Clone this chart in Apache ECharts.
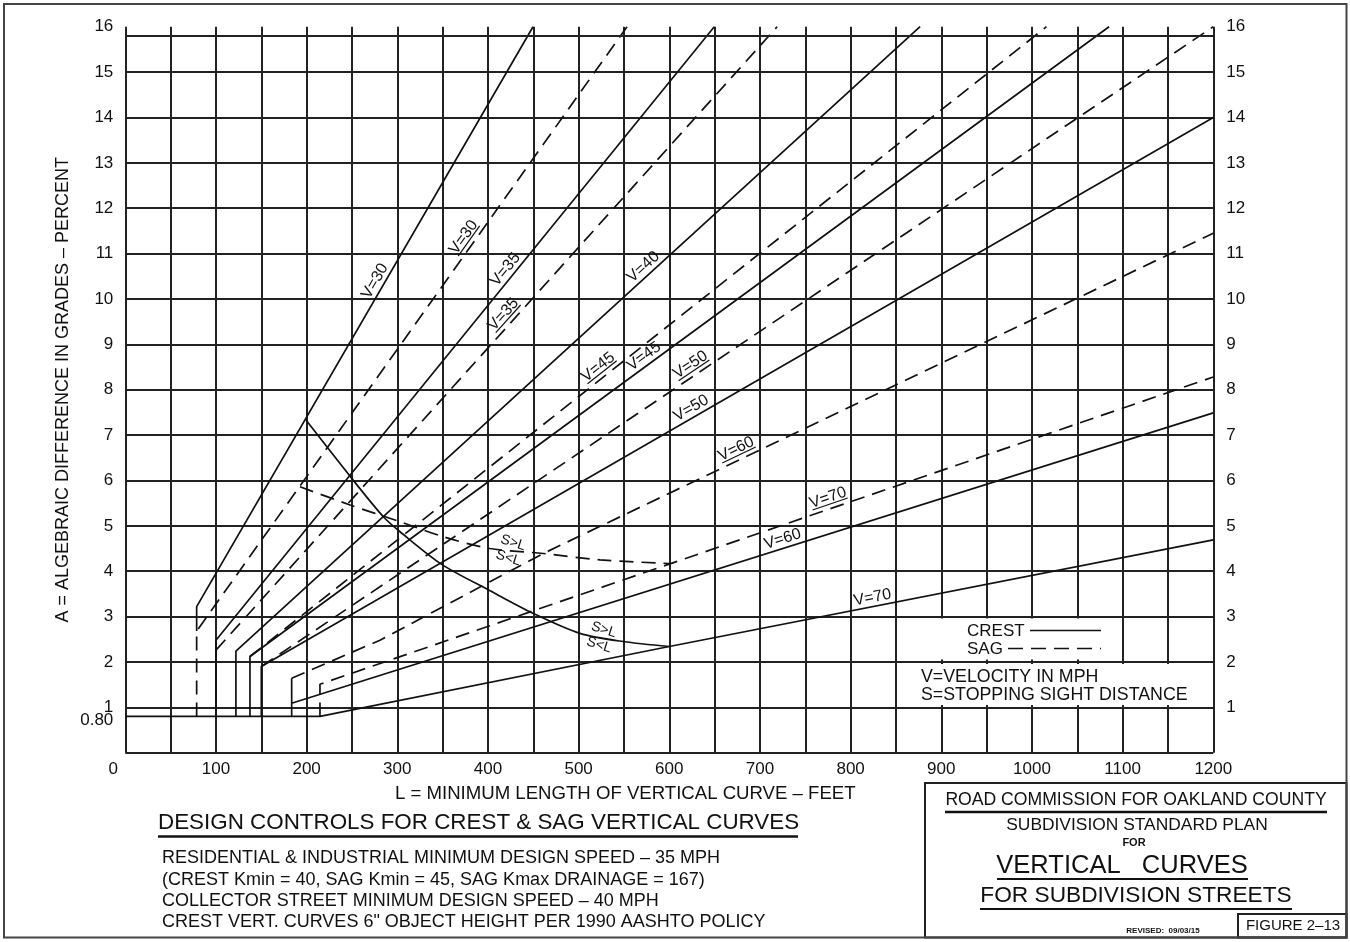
<!DOCTYPE html>
<html>
<head>
<meta charset="utf-8">
<title>Vertical curves</title>
<script src="https://cdn.jsdelivr.net/npm/echarts@6.0.0/dist/echarts.min.js"></script>
<style>
  html, body { margin: 0; padding: 0; background: #fff; }
  #main { width: 1350px; height: 942px; }
</style>
</head>
<body>
<div id="main"></div>
<script>
var myChart = echarts.init(document.getElementById('main'));
var FONT = '"Liberation Sans", Arial, sans-serif';
var INK = '#111';

// L (feet) / A (percent)
// crest curves (solid)
var crest30 = [[78.7, 2.68], [78.7, 3.22], [449.7, 16]];
var crest35 = [[100, 0.8], [100, 2.48], [649.6, 16]];
var crest40 = [[122, 0.8], [122, 2.24], [876.6, 16]];
var crest45 = [[137.5, 0.8], [137.5, 2.12], [1085, 16]];
var crest50 = [[150, 0.8], [150, 1.9], [1200, 14.0]];
var crest60 = [[183.5, 0.8], [183.5, 1.64], [183.5, 1.09], [1200, 7.49]];
var crest70 = [[0, 0.8], [214.7, 0.8], [600, 2.34], [1200, 4.69]];
// sag curves (dashed)
var sag30 = [[78.7, 0.8], [78.7, 2.68], [553.4, 16]];
var sag35 = [[100, 2.26], [719, 16]];
var sag45 = [[137.5, 2.12], [1016, 16]];
var sag50 = [[150, 1.9], [1200, 16]];
var sag60 = [[183.5, 1.64], [280.9, 2.48], [461, 4.39], [1200, 11.45]];
var sag70 = [[214.7, 0.8], [214.7, 1.51], [1200, 8.28]];
// S = L boundaries
var crestSL = [[199.3, 7.33], [250, 6.04], [284.6, 5.2], [303, 4.87], [349, 4.15], [400.4, 3.59],
               [450, 3.07], [501.5, 2.63], [549, 2.45], [600, 2.34]];
var sagSL = [[192.7, 5.86], [247.9, 5.46], [303, 5.09], [350.7, 4.76], [402, 4.5],
             [461, 4.39], [523.6, 4.25], [600, 4.17]];
// the top rule of the drawing sits a bit under 16
var topRule = 15.79;

var crestCurves = [crest30, crest35, crest40, crest45, crest50, crest60, crest70, crestSL];
var sagCurves = [sag30, sag35, sag45, sag50, sag60, sag70, sagSL];

// labels along the lines: text, curve, L where it sits, sag (underlined)
var curveLabels = [
  ['V=30', crest30, 284, false],
  ['V=30', sag30, 383, true],
  ['V=35', crest35, 427, false],
  ['V=35', sag35, 426, true],
  ['V=40', crest40, 578, false],
  ['V=45', sag45, 529, true],
  ['V=45', crest45, 578, false],
  ['V=50', sag50, 630, true],
  ['V=50', crest50, 629, false],
  ['V=60', sag60, 679, true],
  ['V=70', sag70, 779, true],
  ['V=60', crest60, 728, false],
  ['V=70', crest70, 826, false]
];

function lineSeries(data, dashed, smooth) {
  return {
    type: 'line',
    data: data,
    symbol: 'none',
    smooth: smooth ? 0.3 : false,
    silent: true,
    animation: false,
    z: 3,
    lineStyle: { color: INK, width: 1.7, type: dashed ? [14, 8] : 'solid' }
  };
}

var series = [];
crestCurves.forEach(function (c) { series.push(lineSeries(c, false, c === crestSL)); });
sagCurves.forEach(function (c) { series.push(lineSeries(c, true, c === sagSL)); });
series[0].markLine = {
  silent: true, symbol: 'none', animation: false,
  label: { show: false },
  lineStyle: { color: '#222', width: 2, type: 'solid' },
  data: [{ yAxis: topRule }]
};

option = {
  backgroundColor: '#fff',
  animation: false,
  grid: { left: 125.3, right: 136.7, top: 26.7, bottom: 189.3 },
  xAxis: {
    type: 'value', min: 0, max: 1200, interval: 50,
    axisLine: { show: false }, axisTick: { show: false },
    splitLine: { show: true, lineStyle: { color: '#222', width: 2 } },
    axisLabel: {
      margin: 8, fontFamily: FONT, fontSize: 17, color: INK,
      formatter: function (v) {
        if (v % 100 !== 0) return '';
        return v === 0 ? '{z|0}' : String(v);
      },
      rich: { z: { fontFamily: FONT, fontSize: 17, color: INK, padding: [0, 24, 0, 0] } }
    },
    name: 'L = MINIMUM LENGTH OF VERTICAL CURVE – FEET',
    nameLocation: 'middle', nameGap: 32,
    nameTextStyle: { fontFamily: FONT, fontSize: 18.6, color: INK, padding: [0, 88, 0, 0] }
  },
  yAxis: [{
    type: 'value', min: 0, max: 16, interval: 1, position: 'left',
    axisLine: { show: false }, axisTick: { show: false },
    splitLine: { show: true, showMaxLine: false, lineStyle: { color: '#222', width: 2 } },
    axisLabel: {
      margin: 12, fontFamily: FONT, fontSize: 17, color: INK,
      formatter: function (v) { return v === 0 ? '' : String(v); }
    },
    name: 'A = ALGEBRAIC DIFFERENCE IN GRADES – PERCENT',
    nameLocation: 'middle', nameGap: 53, nameRotate: 90,
    nameTextStyle: { fontFamily: FONT, fontSize: 18, color: INK }
  }, {
    type: 'value', min: 0, max: 16, interval: 1, position: 'right',
    axisLine: { show: false }, axisTick: { show: false }, splitLine: { show: false },
    axisLabel: {
      margin: 13, fontFamily: FONT, fontSize: 17, color: INK,
      formatter: function (v) { return v === 0 ? '' : String(v); }
    }
  }],
  series: series
};

myChart.setOption(option);

function toPx(p) { return myChart.convertToPixel({ seriesIndex: 0 }, p); }

// point and pixel angle on a polyline at a given L
function onCurve(curve, L) {
  for (var i = 0; i < curve.length - 1; i++) {
    var a = curve[i], b = curve[i + 1];
    if (b[0] > a[0] && L >= a[0] && L <= b[0]) {
      var t = (L - a[0]) / (b[0] - a[0]);
      var pa = toPx(a), pb = toPx(b);
      return {
        p: toPx([L, a[1] + t * (b[1] - a[1])]),
        ang: Math.atan2(-(pb[1] - pa[1]), pb[0] - pa[0])
      };
    }
  }
  return null;
}

function text(x, y, s, size, extra) {
  var st = {
    text: s, x: 0, y: 0, fill: INK, fontFamily: FONT, fontSize: size,
    align: 'left', verticalAlign: 'middle', textAlign: 'left', textVerticalAlign: 'middle'
  };
  for (var k in extra) st[k] = extra[k];
  if (st.align) st.textAlign = st.align;
  if (st.verticalAlign) st.textVerticalAlign = st.verticalAlign;
  return { type: 'text', x: x, y: y, z: 20, style: st };
}
function rule(x1, y1, x2, y2, w, dash) {
  return {
    type: 'line', z: 20,
    shape: { x1: x1, y1: y1, x2: x2, y2: y2 },
    style: { stroke: INK, lineWidth: w || 2, lineDash: dash || null }
  };
}
function box(x, y, w, h, fill, stroke, lw, z) {
  return {
    type: 'rect', z: z || 20,
    shape: { x: x, y: y, width: w, height: h },
    style: { fill: fill || 'none', stroke: stroke || null, lineWidth: lw || 0 }
  };
}

var g = [];

// labels on the curves
curveLabels.forEach(function (lb) {
  var c = onCurve(lb[1], lb[2]);
  if (!c) return;
  var fs = 16;
  var w = lb[0].length * fs * 0.58;
  var kids = [{
    type: 'text', z: 21,
    style: {
      text: lb[0], x: 0, y: lb[3] ? -3 : -1, fill: INK, fontFamily: FONT, fontSize: fs,
      align: 'center', verticalAlign: 'bottom', textAlign: 'center', textVerticalAlign: 'bottom'
    }
  }];
  if (lb[3]) kids.push({ type: 'line', z: 21, shape: { x1: -w / 2, y1: -4.5, x2: w / 2, y2: -4.5 }, style: { stroke: INK, lineWidth: 1.2 } });
  g.push({ type: 'group', x: c.p[0], y: c.p[1], rotation: c.ang, z: 21, children: kids });
});

// S>L / S<L markers on the boundary curves
[[crestSL, 525], [sagSL, 425]].forEach(function (m) {
  var c = onCurve(m[0], m[1]);
  if (!c) return;
  g.push({
    type: 'group', x: c.p[0], y: c.p[1], rotation: -0.3, z: 21,
    children: [
      { type: 'text', style: { text: 'S>L', x: 0, y: -1, fill: INK, fontFamily: FONT, fontSize: 14,
        align: 'center', verticalAlign: 'bottom', textAlign: 'center', textVerticalAlign: 'bottom' } },
      { type: 'text', style: { text: 'S<L', x: 0, y: 1, fill: INK, fontFamily: FONT, fontSize: 14,
        align: 'center', verticalAlign: 'top', textAlign: 'center', textVerticalAlign: 'top' } }
    ]
  });
});

// 0.80 tick label
var p08 = toPx([0, 0.8]);
g.push(text(p08[0] - 12, p08[1] + 4, '0.80', 17, { align: 'right' }));

// legend in the plot
g.push(box(932, 618.5, 176, 41, '#fff', null, 0, 10));
g.push(box(914, 664, 277, 41, '#fff', null, 0, 10));
g.push(text(967, 631, 'CREST', 17));
g.push(rule(1030, 630.5, 1101, 630.5, 1.6));
g.push(text(967, 649, 'SAG', 17));
g.push(rule(1008, 648.5, 1101, 648.5, 1.6, [15, 8]));
g.push(text(921, 677, 'V=VELOCITY IN MPH', 17.8));
g.push(text(921, 695, 'S=STOPPING SIGHT DISTANCE', 17.8));

// notes under the chart
g.push(text(158, 823, 'DESIGN CONTROLS FOR CREST & SAG VERTICAL CURVES', 22.4));
g.push(rule(158, 836.5, 798, 836.5, 2.5));
g.push(text(162, 858, 'RESIDENTIAL & INDUSTRIAL MINIMUM DESIGN SPEED – 35 MPH', 18));
g.push(text(162, 880, '(CREST Kmin = 40, SAG Kmin = 45, SAG Kmax DRAINAGE = 167)', 18));
g.push(text(162, 901, 'COLLECTOR STREET MINIMUM DESIGN SPEED – 40 MPH', 18));
g.push(text(162, 922, 'CREST VERT. CURVES 6" OBJECT HEIGHT PER 1990 AASHTO POLICY', 18));

// title block
g.push(box(925, 783, 421.5, 154.5, 'none', '#222', 2));
g.push(text(1136, 800, 'ROAD COMMISSION FOR OAKLAND COUNTY', 17.6, { align: 'center' }));
g.push(rule(945, 812, 1327, 812, 2.5));
g.push(text(1137, 825, 'SUBDIVISION STANDARD PLAN', 17.4, { align: 'center' }));
g.push(text(1134, 843, 'FOR', 11, { align: 'center', fontWeight: 'bold' }));
g.push(text(1122, 866, 'VERTICAL   CURVES', 25.5, { align: 'center' }));
g.push(rule(997, 879, 1248, 879, 2));
g.push(text(1136, 896, 'FOR SUBDIVISION STREETS', 22.7, { align: 'center' }));
g.push(rule(980, 909, 1292, 909, 2));
g.push(text(1163, 931, 'REVISED:  09/03/15', 8, { align: 'center', fontWeight: 'bold' }));
g.push(box(1238, 914, 108.5, 23.5, 'none', '#222', 2));
g.push(text(1293, 926, 'FIGURE 2–13', 15, { align: 'center' }));

// drawing frame
g.push(box(4, 4, 1342.5, 933.5, 'none', '#444', 2));

myChart.setOption({ graphic: { elements: g } });
</script>
</body>
</html>
